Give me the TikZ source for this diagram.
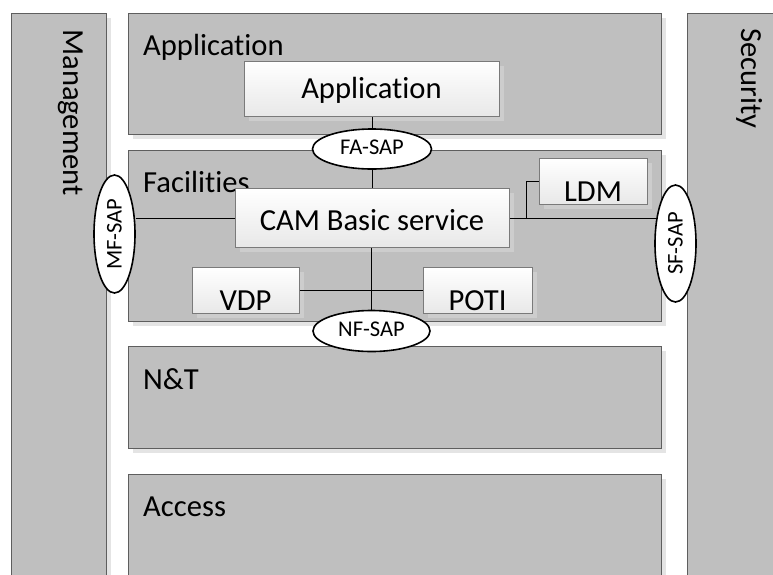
\documentclass[tikz,border=0pt]{standalone}
\usepackage{fontspec}
\setmainfont{Carlito}[Ligatures={NoCommon}]
\usepackage{graphicx}
\usetikzlibrary{shapes.geometric,shadows}
\definecolor{layerfill}{HTML}{BFBFBF}
\definecolor{layerdraw}{HTML}{5E5E5E}
\definecolor{shadowout}{HTML}{E4E4E4}
\definecolor{shadowin}{HTML}{CDCDCD}
\definecolor{innerdraw}{HTML}{7A7A7A}
\definecolor{innerbot}{HTML}{E8E8E8}
\tikzset{
 layer/.style={draw=layerdraw, line width=0.8pt, fill=layerfill, rectangle, inner sep=0pt, anchor=north west,
   drop shadow={shadow xshift=5pt, shadow yshift=-5pt, fill=shadowout, opacity=1}},
 innerbox/.style={draw=innerdraw, line width=0.8pt, rectangle, inner sep=0pt, anchor=north west,
   top color=white, bottom color=innerbot,
   drop shadow={shadow xshift=5pt, shadow yshift=-5pt, fill=shadowin, opacity=1}},
 big/.style={font=\fontsize{30.6}{36}\selectfont, inner sep=0pt},
 sap/.style={ellipse, draw=black, line width=1.6pt, fill=white, inner sep=0pt, font=\fontsize{22.5}{26}\selectfont},
 conn/.style={draw=black, line width=0.8pt},
}
\begin{document}
\begin{tikzpicture}[x=1pt,y=-1pt]
\useasboundingbox (0,0) rectangle (773,574);
\clip (0,0) rectangle (773,574);
% layers
\node[layer, minimum width=95pt, minimum height=600pt] (mgmt) at (11,13) {};
\node[layer, minimum width=120pt, minimum height=600pt] (sec) at (687,13) {};
\node[layer, minimum width=533pt, minimum height=121pt] (app) at (128,13) {};
\node[layer, minimum width=533pt, minimum height=171pt] (fac) at (128,150) {};
\node[layer, minimum width=533pt, minimum height=102pt] (nt) at (128,346) {};
\node[layer, minimum width=533pt, minimum height=140pt] (acc) at (128,474) {};
% layer labels
\node[big, anchor=base west] (appL) at (143,55) {Application};
\node[big, anchor=base west] (facL) at (143,192) {Facilities};
\node[big, anchor=base west] (ntL) at (143,389) {N\&T};
\node[big, anchor=base west] (accL) at (143,516) {Access};
\node[big, rotate=-90, anchor=base west] (mgmtL) at (63,29) {Management};
\node[big, rotate=-90, anchor=base west] (secL) at (741,28) {Security};
% inner boxes
\node[innerbox, minimum width=255pt, minimum height=55pt] (appin) at (244,61) {};
\node[innerbox, minimum width=274pt, minimum height=59pt] (cam) at (235,188) {};
\node[innerbox, minimum width=108pt, minimum height=46pt] (ldm) at (539,158) {};
\node[innerbox, minimum width=107pt, minimum height=46pt] (vdp) at (192,267) {};
\node[innerbox, minimum width=109pt, minimum height=46pt] (poti) at (423,267) {};
% SAPs
\node[sap, text depth=4pt, minimum width=119pt, minimum height=40pt] (fa) at (372,149) {FA-SAP};
\node[sap, text depth=4pt, minimum width=117pt, minimum height=41pt] (nf) at (371.5,331) {NF-SAP};
\node[sap, minimum width=41pt, minimum height=118pt] (mf) at (114.5,234) {\rotatebox{90}{MF-SAP}};
\node[sap, minimum width=41pt, minimum height=117pt] (sf) at (675.5,243.5) {\rotatebox{90}{SF-SAP}};
% connectors
\coordinate (br) at (526,217.5);
\draw[conn] (appin.south -| fa.north) -- (fa.north);
\draw[conn] (fa.south) -- (fa.south |- cam.north);
\draw[conn] (br) |- (ldm.west);
\draw[conn] (vdp.east) -- (poti.west);
\draw[conn] (cam.south -| nf.north) -- (nf.north);
\draw[conn] (cam.west) -- (cam.west -| mf.east);
\draw[conn] (cam.east) -- ([xshift=2pt]cam.east -| sf.west);
% inner labels
\node[big, anchor=base] (appinL) at (371.5,98) {Application};
\node[big, anchor=base] (camL) at (372,230) {CAM Basic service};
\node[big, anchor=base] (ldmL) at (593,201) {LDM};
\node[big, anchor=base] (vdpL) at (245.5,310) {VDP};
\node[big, anchor=base] (potiL) at (477.5,310) {POTI};
\end{tikzpicture}
\end{document}
